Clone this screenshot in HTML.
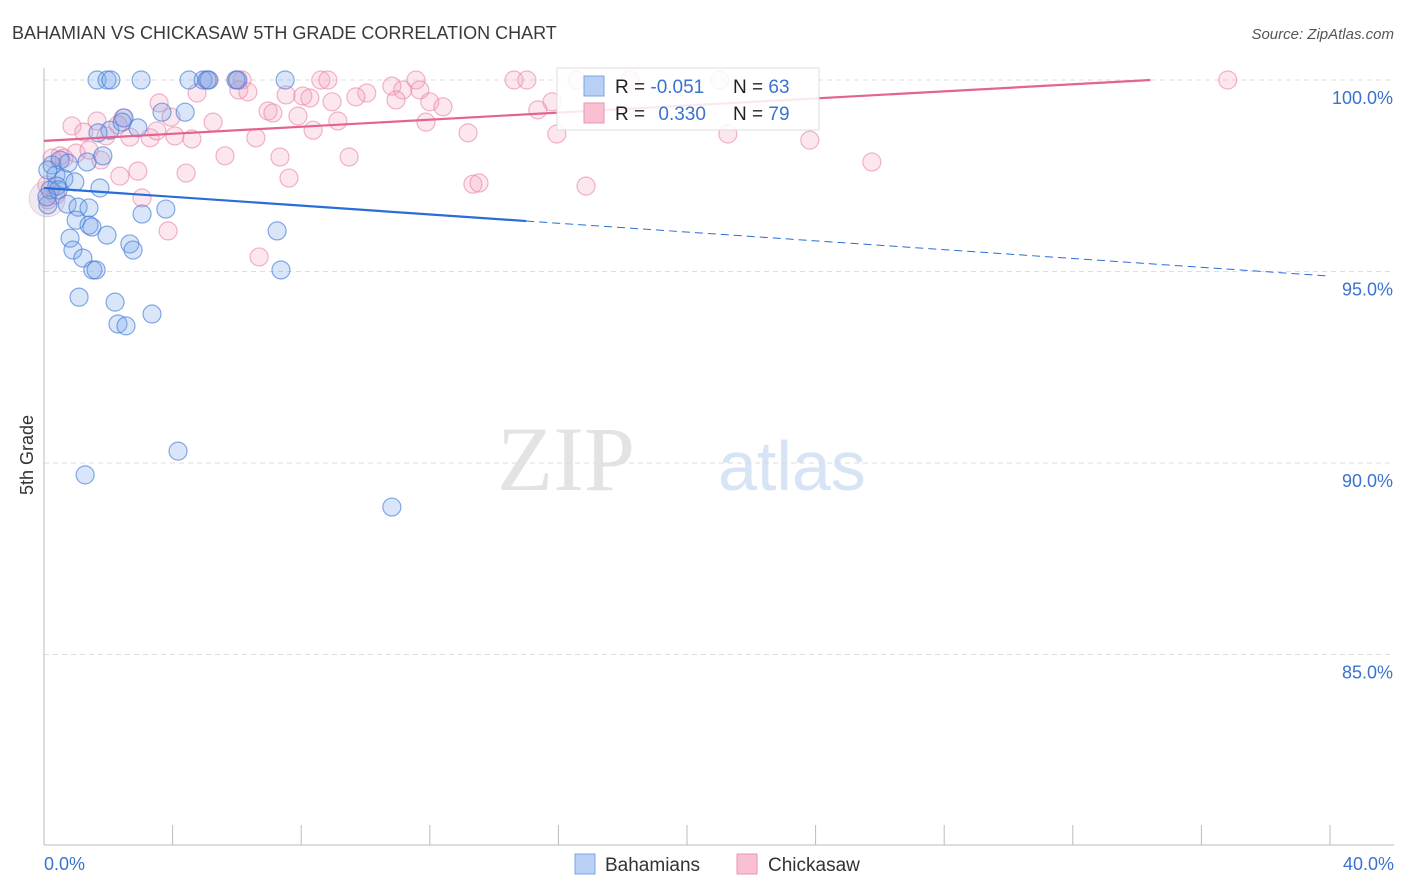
<!DOCTYPE html>
<html><head><meta charset="utf-8">
<style>
body{margin:0;background:#fff;font-family:"Liberation Sans",sans-serif;}
svg{display:block}
</style></head>
<body>
<svg id="chart" width="1406" height="892">
<text x="12" y="39" font-size="18" fill="#3a3a3a">BAHAMIAN VS CHICKASAW 5TH GRADE CORRELATION CHART</text>
<text x="1394" y="39" font-size="15" fill="#555" font-style="italic" text-anchor="end">Source: ZipAtlas.com</text>
<text x="635" y="490" font-size="92" fill="#e3e3e3" font-family="Liberation Serif,serif" text-anchor="end">ZIP</text>
<text x="718" y="490" font-size="70" fill="#d6e4f5">atlas</text>
<g id="grid"></g>
<g id="marks"></g>
<text transform="translate(33,455) rotate(-90)" font-size="18" fill="#333" text-anchor="middle">5th Grade</text>
<g>
<rect x="557" y="68" width="262" height="62" fill="#fff" fill-opacity="0.85" stroke="#ddd"/>
<rect x="584" y="76" width="20" height="20" fill="#b7d0f3" stroke="#7aa6e3"/>
<rect x="584" y="103" width="20" height="20" fill="#f8c0d0" stroke="#eb94b0"/>
<text x="615" y="93" font-size="19" fill="#222">R = <tspan fill="#3a72d0">-0.051</tspan></text>
<text x="733" y="93" font-size="19" fill="#222">N = <tspan fill="#3a72d0">63</tspan></text>
<text x="615" y="120" font-size="19" fill="#222">R = <tspan fill="#3a72d0" dx="8">0.330</tspan></text>
<text x="733" y="120" font-size="19" fill="#222">N = <tspan fill="#3a72d0">79</tspan></text>
</g>
<g>
<rect x="575" y="854" width="20" height="20" fill="#b7d0f3" stroke="#7aa6e3"/>
<text x="605" y="871" font-size="19" fill="#333">Bahamians</text>
<rect x="737" y="854" width="20" height="20" fill="#f8c0d0" stroke="#eb94b0"/>
<text x="768" y="871" font-size="19" fill="#333">Chickasaw</text>
</g>
</svg>
<script>
const xTicks=[0,5,10,15,20,25,30,35,40];
const yTicks=[100,95,90,85];
const blueX=[1.65,1.96,2.08,3.02,4.51,4.95,5.07,5.13,5.97,6.03,7.5,3.67,4.39,2.49,2.05,1.68,2.92,2.43,0.25,0.5,0.75,1.34,1.83,0.37,0.62,0.96,0.19,0.4,1.74,0.72,1.06,1.4,3.05,3.79,1.0,1.4,1.49,1.96,0.81,2.67,2.77,0.9,1.21,1.52,1.62,7.25,7.37,1.09,2.21,2.3,2.55,3.36,4.17,1.28,10.82,0.12,0.12,0.44,0.09];
const blueY=[100,100,100,100,100,100,100,100,100,100,100,99.16,99.16,99.01,98.69,98.62,98.75,98.9,97.78,97.91,97.83,97.86,98.02,97.52,97.42,97.34,97.13,97.23,97.18,96.76,96.68,96.66,96.5,96.63,96.34,96.21,96.16,95.95,95.87,95.72,95.56,95.56,95.35,95.04,95.04,96.06,95.04,94.33,94.2,93.63,93.58,93.89,90.31,89.69,88.85,96.74,97.65,97.13,96.95];
const pinkX=[5.1,6.0,6.16,8.61,8.83,11.57,14.62,15.02,16.58,18.22,21.02,36.82,6.06,4.76,6.34,7.53,8.05,8.27,10.82,11.16,11.69,10.04,9.7,8.96,10.95,12.0,12.41,15.8,15.36,3.58,3.95,5.26,6.97,7.12,7.9,9.14,11.88,2.46,1.65,0.87,1.24,2.3,1.93,2.67,3.3,3.51,4.07,4.6,6.59,8.37,13.19,15.95,21.27,23.82,5.63,7.34,9.49,25.75,1.0,1.77,0.5,0.62,0.25,1.4,2.92,2.36,4.42,7.62,13.34,13.53,16.86,3.05,3.86,6.69,0.12,0.09,0.37];
const pinkY=[100,100,100,100,100,100,100,100,100,100,100,100,99.74,99.66,99.69,99.61,99.58,99.53,99.84,99.74,99.74,99.66,99.56,99.43,99.48,99.43,99.3,99.43,99.22,99.4,99.03,98.9,99.19,99.14,99.06,98.93,98.9,99.01,98.93,98.8,98.64,98.83,98.54,98.51,98.49,98.67,98.54,98.46,98.49,98.69,98.62,98.59,98.59,98.43,98.02,97.99,97.99,97.86,98.09,97.91,98.02,97.96,97.96,98.17,97.62,97.49,97.57,97.44,97.28,97.31,97.23,96.92,96.06,95.38,96.87,97.26,97.0];
const blueTrend=[97.18,94.88];
const pinkTrend=[98.41,0.0462];
const NS="http://www.w3.org/2000/svg";
const X=v=>44+v/40*1286;
const Y=v=>80+(100-v)*38.3;
function mk(tag,attrs,parent){const e=document.createElementNS(NS,tag);for(const k in attrs)e.setAttribute(k,attrs[k]);parent.appendChild(e);return e;}
const grid=document.getElementById('grid'),marks=document.getElementById('marks');
yTicks.forEach(t=>{
 const l=mk('line',{x1:44,x2:1394,y1:Y(t),y2:Y(t),stroke:'#ddd','stroke-dasharray':'5,4'},grid);
 
 
 const tx=mk('text',{x:1393,y:Y(t)+24,'font-size':18,fill:'#3a72d0','text-anchor':'end'},grid);
 tx.textContent=t.toFixed(1)+'%';
 
 
});
let ax=mk('line',{x1:44,x2:44,y1:68,y2:845,stroke:'#bbb'},grid);


ax=mk('line',{x1:44,x2:1394,y1:845,y2:845,stroke:'#bbb'},grid);


for(let i=0;i<=10;i++){
 const t=mk('line',{x1:X(i*4),x2:X(i*4),y1:825,y2:845,stroke:'#bbb'},grid);
 
 
}
[[0,'start',44],[40,'end',1394]].forEach(([v,a,px])=>{
 const tx=mk('text',{x:px,y:870,'font-size':18,fill:'#3a72d0','text-anchor':a},grid);
 tx.textContent=v.toFixed(1)+'%';
 
 
});
const big=mk('circle',{cx:X(0.1),cy:Y(96.9),r:18,fill:'rgba(190,170,200,0.25)',stroke:'rgba(200,150,180,0.4)'},marks);


pinkX.forEach((x,i)=>{
 const c=mk('circle',{cx:X(x),cy:Y(pinkY[i]),r:9,fill:'rgba(244,160,190,0.25)',stroke:'rgba(232,130,165,0.6)','stroke-width':1.2},marks);
 
 
});
blueX.forEach((x,i)=>{
 const c=mk('circle',{cx:X(x),cy:Y(blueY[i]),r:9,fill:'rgba(120,165,235,0.28)',stroke:'rgba(70,125,215,0.65)','stroke-width':1.2},marks);
 
 
});
const bAt=x=>blueTrend[0]+(blueTrend[1]-blueTrend[0])*x/40;
let l=mk('line',{x1:X(0),y1:Y(bAt(0)),x2:X(15),y2:Y(bAt(15)),stroke:'#2a6dd6','stroke-width':2.2},marks);


l=mk('line',{x1:X(15),y1:Y(bAt(15)),x2:X(40),y2:Y(bAt(40)),stroke:'#2a6dd6','stroke-width':1,'stroke-dasharray':'8,5'},marks);


const xEnd=(100-pinkTrend[0])/pinkTrend[1];
l=mk('line',{x1:X(0),y1:Y(pinkTrend[0]),x2:X(xEnd),y2:Y(100),stroke:'#e4648e','stroke-width':2.2},marks);


</script>
</body></html>
